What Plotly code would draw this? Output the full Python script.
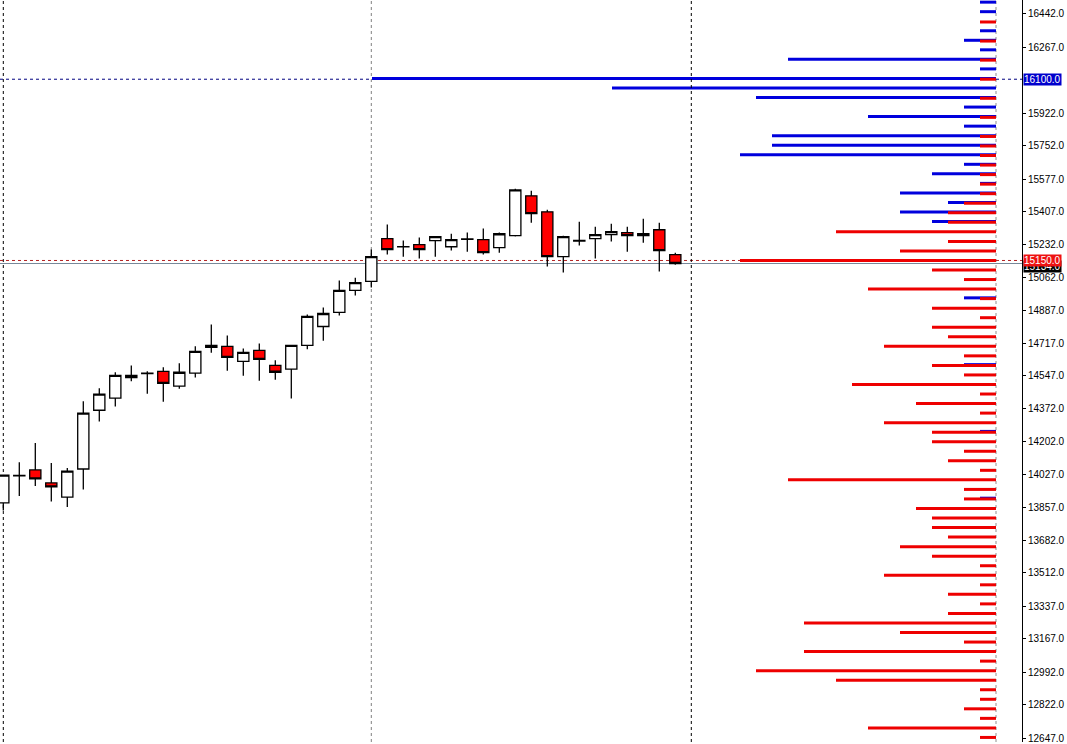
import plotly.graph_objects as go

# ---------------- candle data ----------------
candle_pos = list(range(43))
opens = [13879, 14021, 14052, 13984, 13910, 14057, 14365, 14428, 14536, 14557,
         14569, 14491, 14559, 14705, 14700, 14621, 14679, 14600, 14580, 14705,
         14804, 14878, 14993, 15040, 15264, 15222, 15233, 15254, 15222, 15261,
         15259, 15217, 15280, 15489, 15405, 15170, 15252, 15264, 15285, 15296,
         15280, 15311, 15181]
highs = [14026, 14093, 14193, 14088, 14062, 14412, 14480, 14564, 14600, 14569,
         14590, 14611, 14700, 14815, 14757, 14689, 14715, 14627, 14707, 14867,
         14904, 15045, 15060, 15208, 15339, 15254, 15270, 15276, 15290, 15296,
         15317, 15296, 15526, 15515, 15416, 15280, 15353, 15327, 15343, 15327,
         15369, 15348, 15191]
lows = [13840, 13916, 13968, 13887, 13858, 13950, 14306, 14384, 14517, 14452,
        14410, 14478, 14536, 14666, 14572, 14546, 14520, 14525, 14426, 14684,
        14729, 14862, 14966, 15008, 15181, 15170, 15160, 15170, 15202, 15196,
        15181, 15191, 15275, 15348, 15118, 15087, 15228, 15160, 15249, 15196,
        15243, 15092, 15128]
closes = [14025, 14024, 14005, 13963, 14046, 14350, 14449, 14548, 14548, 14559,
          14506, 14564, 14674, 14695, 14642, 14668, 14632, 14564, 14705, 14857,
          14872, 14993, 15034, 15170, 15207, 15223, 15207, 15275, 15259, 15263,
          15191, 15290, 15520, 15395, 15170, 15275, 15255, 15285, 15301, 15280,
          15290, 15202, 15134]

# ---------------- order-book levels ----------------
levels = [16500, 16450, 16400, 16350, 16300, 16250, 16200, 16150, 16100, 16050,
          16000, 15950, 15900, 15850, 15800, 15750, 15700, 15650, 15600, 15550,
          15500, 15450, 15400, 15350, 15300, 15250, 15200, 15150, 15100, 15050,
          15000, 14950, 14900, 14850, 14800, 14750, 14700, 14650, 14600, 14550,
          14500, 14450, 14400, 14350, 14300, 14250, 14200, 14150, 14100, 14050,
          14000, 13950, 13900, 13850, 13800, 13750, 13700, 13650, 13600, 13550,
          13500, 13450, 13400, 13350, 13300, 13250, 13200, 13150, 13100, 13050,
          13000, 12950, 12900, 12850, 12800, 12750, 12700, 12650]
blue_vol = [1, 1, 0, 1, 2, 1, 13, 1, 39, 24,
            15, 2, 8, 2, 14, 14, 16, 2, 4, 1,
            6, 3, 6, 4, 0, 0, 0, 0, 0, 0,
            0, 2, 0, 0, 0, 0, 0, 0, 2, 0,
            0, 0, 0, 0, 0, 1, 0, 0, 0, 0,
            0, 0, 1, 0, 0, 0, 0, 0, 0, 0,
            0, 0, 0, 0, 0, 0, 0, 0, 0, 0,
            0, 0, 0, 0, 0, 0, 0, 0]
red_vol = [0, 0, 1, 0, 1, 0, 1, 0, 1, 0,
           1, 0, 1, 0, 1, 1, 1, 1, 1, 1,
           1, 2, 3, 3, 10, 3, 6, 16, 4, 2,
           8, 1, 4, 1, 4, 3, 7, 2, 4, 2,
           9, 1, 5, 1, 7, 4, 4, 2, 3, 1,
           13, 2, 2, 5, 4, 4, 3, 6, 4, 1,
           7, 1, 3, 1, 3, 12, 6, 2, 12, 1,
           15, 10, 1, 1, 2, 1, 8, 1]

# ---------------- axis ticks / marker lines ----------------
tick_values = [16442, 16267, 15922, 15752, 15577, 15407, 15232, 15062, 14887, 14717,
               14547, 14372, 14202, 14027, 13857, 13682, 13512, 13337, 13167, 12992,
               12822, 12647]
tick_labels = [f"{v}.0" for v in tick_values]
level_line_price = 16100
ask_line_price = 15150
bid_line_price = 15134
separators = [0, 23, 43]

BLUE = "#0000dd"
RED = "#ee0000"

fig = go.Figure()

# vertical separators / bar origin
fig.add_shape(type="line", xref="x", yref="paper", x0=separators[0], x1=separators[0], y0=0, y1=1,
              line=dict(color="black", width=1, dash="3px,3px"), layer="below")
fig.add_shape(type="line", xref="x", yref="paper", x0=separators[1], x1=separators[1], y0=0, y1=1,
              line=dict(color="#808080", width=1, dash="3px,3px"), layer="below")
fig.add_shape(type="line", xref="x2", yref="paper", x0=0, x1=0, y0=0, y1=1,
              line=dict(color="#909090", width=1, dash="3px,3px"), layer="below")
fig.add_shape(type="line", xref="paper", yref="y", x0=0, x1=1, y0=level_line_price, y1=level_line_price,
              line=dict(color="#000080", width=1, dash="3px,3px"), layer="below")
fig.add_shape(type="line", xref="paper", yref="y", x0=0, x1=1, y0=bid_line_price, y1=bid_line_price,
              line=dict(color="#778899", width=1.2), layer="below")
fig.add_shape(type="line", xref="paper", yref="y", x0=0, x1=1, y0=ask_line_price, y1=ask_line_price,
              line=dict(color="#b22222", width=1, dash="3px,3px"), layer="below")
fig.add_shape(type="line", xref="x", yref="paper", x0=separators[2], x1=separators[2], y0=0, y1=1,
              line=dict(color="black", width=1, dash="3px,3px"), layer="above")

# order book bars
bx, by = [], []
rx, ry = [], []
for lev, b, r in zip(levels, blue_vol, red_vol):
    if b > 0:
        bx += [0, b, None]
        by += [lev + 4, lev + 4, None]
    if r > 0:
        rx += [0, r, None]
        ry += [lev, lev, None]
fig.add_trace(go.Scatter(x=bx, y=by, mode="lines", line=dict(color=BLUE, width=3),
                         xaxis="x2", yaxis="y", hoverinfo="skip"))
fig.add_trace(go.Scatter(x=rx, y=ry, mode="lines", line=dict(color=RED, width=3),
                         xaxis="x2", yaxis="y", hoverinfo="skip"))

# candles
fig.add_trace(go.Candlestick(
    x=candle_pos, open=opens, high=highs, low=lows, close=closes,
    increasing=dict(fillcolor="white", line=dict(color="black", width=1.3)),
    decreasing=dict(fillcolor="#ff0000", line=dict(color="black", width=1.3)),
    whiskerwidth=0, xaxis="x", yaxis="y"))

font = dict(family="Liberation Sans, Arial, sans-serif", size=10, color="black")

fig.update_layout(
    width=1067, height=744,
    margin=dict(l=0, r=45, t=0, b=0, pad=0),
    plot_bgcolor="white", paper_bgcolor="white",
    showlegend=False,
    font=font,
    boxgap=0.3, boxgroupgap=0,
    xaxis=dict(range=[-0.20625, 63.669], showgrid=False, zeroline=False, showticklabels=False,
               ticks="", showline=False, rangeslider=dict(visible=False)),
    xaxis2=dict(overlaying="x", range=[62.25, -1.625], visible=False),
    yaxis=dict(side="right", range=[12626.1, 16515.2], tickmode="array",
               tickvals=tick_values, ticktext=tick_labels, ticks="outside", ticklen=3,
               tickcolor="black", showline=True, linecolor="black", linewidth=1,
               showgrid=False, zeroline=False, tickfont=font, ticklabeloverflow="allow"),
    annotations=[
        dict(xref="paper", yref="y", x=1, y=level_line_price, xanchor="left", yanchor="middle",
             xshift=1, text=f"{level_line_price}.0", showarrow=False, bgcolor="#0000cc",
             font=dict(family=font["family"], size=10, color="white"), borderpad=0),
        dict(xref="paper", yref="y", x=1, y=bid_line_price, xanchor="left", yanchor="middle",
             xshift=1, yshift=-3, text=f"{bid_line_price}.0", showarrow=False, bgcolor="black",
             font=dict(family=font["family"], size=10, color="white"), borderpad=0),
        dict(xref="paper", yref="y", x=1, y=ask_line_price, xanchor="left", yanchor="middle",
             xshift=1, text=f"{ask_line_price}.0", showarrow=False, bgcolor="#ee1111",
             font=dict(family=font["family"], size=10, color="white"), borderpad=0),
    ],
)

fig.write_html("out.html", config={"displayModeBar": False},
               post_script="document.body.style.margin='0';document.body.style.overflow='hidden';")
